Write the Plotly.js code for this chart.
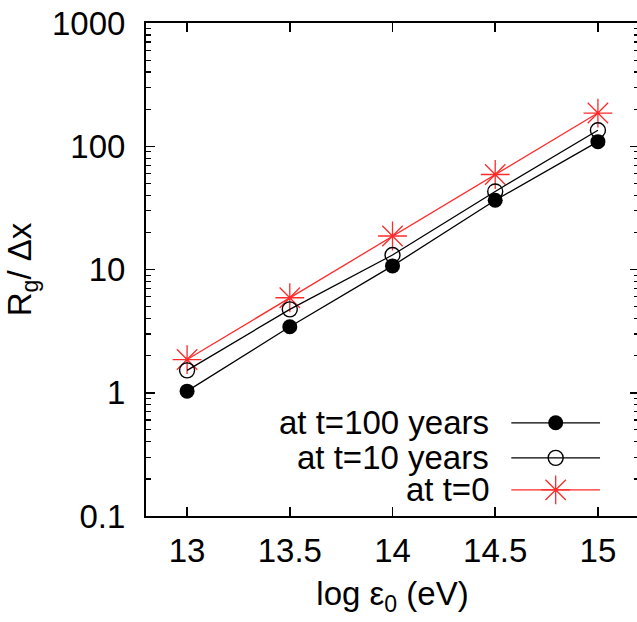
<!DOCTYPE html>
<html>
<head>
<meta charset="utf-8">
<script src="https://cdn.plot.ly/plotly-3.0.1.min.js"></script>
<style>
html,body{margin:0;padding:0;overflow:hidden;background:#fff;}
#chart{width:641px;height:622px;}
</style>
</head>
<body>
<div id="chart"></div>
<script>
// Data
const logE0 = [13, 13.5, 14, 14.5, 15];
const t100 = [1.03, 3.43, 10.7, 36.5, 109];
const t10 = [1.52, 4.75, 13.1, 43, 135];
const t0 = [1.86, 5.9, 18.7, 59, 186];
const seriesNames = ["at t=100 years", "at t=10 years", "at t=0"];
const yTickVals = [0.1, 1, 10, 100, 1000];
const yTickText = ["0.1", "1", "10", "100", "1000"];
const xTickVals = [13, 13.5, 14, 14.5, 15];
const xTickText = ["13", "13.5", "14", "14.5", "15"];

const FONT = "Liberation Sans, Arial, Helvetica, sans-serif";
const FS = 33;
const RED = "#ff2a2a";

const styles = [
  {line:{color:"#000", width:1.3}, marker:{symbol:"circle", size:15, color:"#000"}},
  {line:{color:"#000", width:1.3}, marker:{symbol:"circle-open", size:15, color:"#000", line:{width:1.4, color:"#000"}}},
  {line:{color:RED, width:1.3}, marker:{symbol:"asterisk-open", size:24, color:RED, line:{width:1.3, color:RED}}}
];
const ys = [t100, t10, t0];

const traces = [];
[2,1,0].forEach(i => {
  traces.push({
    x: logE0, y: ys[i], type:"scatter", mode:"lines+markers",
    name: seriesNames[i], showlegend:false,
    line: styles[i].line, marker: styles[i].marker,
    cliponaxis:false
  });
});

// Legend (gnuplot style: text left, sample right) on an overlay axis in plot fractions
const legRowY = [0.189, 0.118, 0.053];
const legX0 = 0.741, legX1 = 0.921, legXc = 0.831, legTextX = 0.70;
const annotations = [];
for (let i = 0; i < 3; i++) {
  traces.push({
    x:[legX0, legX1], y:[legRowY[i], legRowY[i]], xaxis:"x2", yaxis:"y2",
    type:"scatter", mode:"lines", line: styles[i].line, showlegend:false, hoverinfo:"skip"
  });
  traces.push({
    x:[legXc], y:[legRowY[i]], xaxis:"x2", yaxis:"y2",
    type:"scatter", mode:"markers", marker: styles[i].marker, showlegend:false, hoverinfo:"skip"
  });
  annotations.push({
    xref:"x2", yref:"y2", x:legTextX, y:legRowY[i], text:seriesNames[i],
    showarrow:false, xanchor:"right", yanchor:"middle",
    font:{family:FONT, size:FS, color:"#000"}
  });
}

const layout = {
  width:641, height:622,
  margin:{l:146, r:2, t:23, b:106},
  paper_bgcolor:"#fff", plot_bgcolor:"#fff",
  showlegend:false,
  font:{family:FONT, size:FS, color:"#000"},
  xaxis:{
    range:[12.8, 15.2], tickmode:"array", tickvals:xTickVals, ticktext:xTickText,
    ticks:"inside", ticklen:9, tickwidth:1.5, tickcolor:"#000",
    showline:true, linewidth:2, linecolor:"#000", mirror:"ticks",
    showgrid:false, zeroline:false, ticklabelstandoff:4,
    tickfont:{family:FONT, size:FS, color:"#000"},
    title:{text:"log ε<sub>0</sub> (eV)", font:{family:FONT, size:FS, color:"#000"}, standoff:14}
  },
  yaxis:{
    type:"log", range:[-1, 3], tickmode:"array", tickvals:yTickVals, ticktext:yTickText,
    ticks:"inside", ticklen:9, tickwidth:1.5, tickcolor:"#000",
    showline:true, linewidth:2, linecolor:"#000", mirror:"ticks",
    showgrid:false, zeroline:false, ticklabelstandoff:12,
    minor:{dtick:"D1", ticks:"inside", ticklen:5, tickwidth:1.2, tickcolor:"#000", showgrid:false},
    tickfont:{family:FONT, size:FS, color:"#000"},
    title:{text:"R<sub>g</sub>/ Δx", font:{family:FONT, size:FS, color:"#000"}, standoff:10}
  },
  xaxis2:{overlaying:"x", range:[0,1], visible:false, fixedrange:true},
  yaxis2:{overlaying:"y", range:[0,1], visible:false, fixedrange:true},
  annotations: annotations
};

Plotly.newPlot("chart", traces, layout, {displayModeBar:false, staticPlot:true});
</script>
</body>
</html>
